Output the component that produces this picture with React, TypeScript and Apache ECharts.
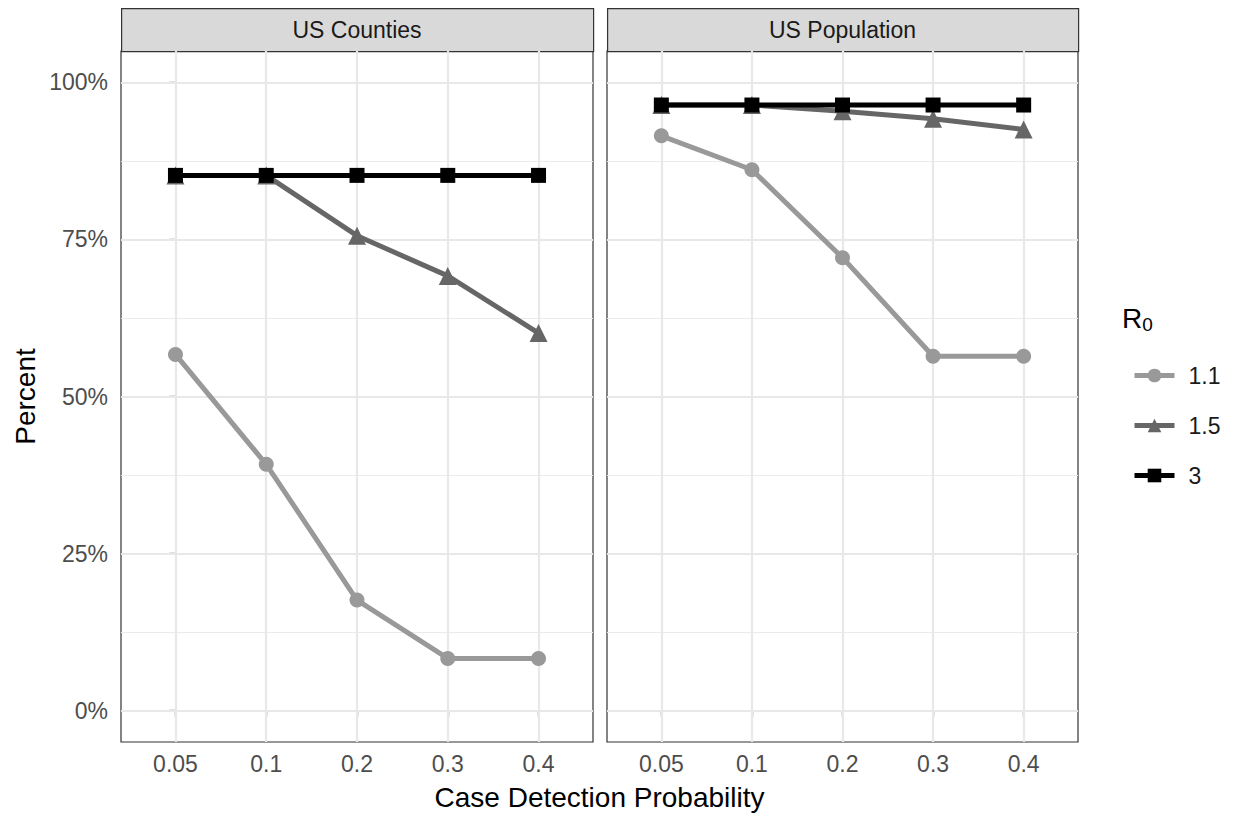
import React, { useEffect, useRef } from "react";
import * as echarts from "echarts";

const categories = ["0.05", "0.1", "0.2", "0.3", "0.4"];
const panels = ["US Counties", "US Population"];
const r0Levels = ["1.1", "1.5", "3"];

const countiesR11 = [56.7, 39.2, 17.6, 8.3, 8.3];
const countiesR15 = [85.2, 85.2, 75.6, 69.2, 60.1];
const countiesR3 = [85.2, 85.2, 85.2, 85.2, 85.2];

const populationR11 = [91.5, 86.1, 72.1, 56.4, 56.4];
const populationR15 = [96.4, 96.4, 95.4, 94.2, 92.5];
const populationR3 = [96.4, 96.4, 96.4, 96.4, 96.4];

const yMajor = [0, 25, 50, 75, 100];
const yMinor = [12.5, 37.5, 62.5, 87.5];

const colors = ["#999999", "#666666", "#000000"];
const symbols = ["circle", "triangle", "rect"];
const symbolSizes = [15, 18, 15];

const FONT = "Liberation Sans, Arial, Helvetica, sans-serif";

const gridLeft = [121, 607];
const gridWidth = [472, 471];
const gridTop = 51;
const gridHeight = 691;

export default function App() {
  const ref = useRef<HTMLDivElement>(null);

  useEffect(() => {
    if (!ref.current) return;
    const chart = echarts.init(ref.current, undefined, { renderer: "svg" });

    const panelData = [
      [countiesR11, countiesR15, countiesR3],
      [populationR11, populationR15, populationR3],
    ];

    const grids = gridLeft.map((l, i) => ({
      left: l,
      top: gridTop,
      width: gridWidth[i],
      height: gridHeight,
      show: true,
      backgroundColor: "#ffffff",
      borderColor: "#333333",
      borderWidth: 1.2,
    }));

    const xAxes = [0, 1].map((i) => ({
      type: "value",
      gridIndex: i,
      min: -0.6,
      max: 4.6,
      axisLine: { show: false },
      splitLine: { show: false },
      axisTick: {
        show: true,
        customValues: categories.map((_, k) => k),
        length: 6,
        lineStyle: { color: "#333333", width: 1.3 },
      },
      axisLabel: {
        show: true,
        customValues: categories.map((_, k) => k),
        formatter: (v: number) => categories[Math.round(v)] ?? "",
        color: "#4d4d4d",
        fontSize: 23,
        fontFamily: FONT,
        margin: 10,
      },
    }));

    const yAxes = [0, 1].map((i) => ({
      type: "value",
      gridIndex: i,
      min: -5,
      max: 105,
      axisLine: { show: false },
      splitLine: { show: false },
      name: i === 0 ? "Percent" : "",
      nameLocation: "middle",
      nameRotate: 90,
      nameGap: 82,
      nameTextStyle: { fontSize: 28, color: "#000000", fontFamily: FONT },
      axisTick: {
        show: i === 0,
        customValues: yMajor,
        length: 6,
        lineStyle: { color: "#333333", width: 1.3 },
      },
      axisLabel: {
        show: i === 0,
        customValues: yMajor,
        formatter: (v: number) => `${v}%`,
        color: "#4d4d4d",
        fontSize: 23,
        fontFamily: FONT,
        margin: 13,
      },
    }));

    const gridSeries = [0, 1].map((i) => ({
      type: "line",
      name: "grid" + i,
      xAxisIndex: i,
      yAxisIndex: i,
      data: [],
      silent: true,
      z: 1,
      markLine: {
        silent: true,
        z: 1,
        animation: false,
        symbol: ["none", "none"],
        label: { show: false },
        emphasis: { disabled: true },
        data: [
          ...yMinor.map((v) => ({
            yAxis: v,
            lineStyle: { color: "#ebebeb", width: 1, type: "solid" },
          })),
          ...yMajor.map((v) => ({
            yAxis: v,
            lineStyle: { color: "#e8e8e8", width: 2.2, type: "solid" },
          })),
          ...categories.map((_, k) => ({
            xAxis: k,
            lineStyle: { color: "#e8e8e8", width: 2.2, type: "solid" },
          })),
        ],
      },
    }));

    const dataSeries: any[] = [];
    [0, 1].forEach((p) => {
      r0Levels.forEach((lvl, j) => {
        dataSeries.push({
          type: "line",
          name: lvl,
          xAxisIndex: p,
          yAxisIndex: p,
          z: 2 + j,
          data: categories.map((_, k) => [k, panelData[p][j][k]]),
          symbol: symbols[j],
          symbolSize: symbolSizes[j],
          showSymbol: true,
          lineStyle: { color: colors[j], width: 5 },
          itemStyle: { color: colors[j] },
          emphasis: { disabled: true },
        });
      });
    });

    const graphics: any[] = [];
    panels.forEach((name, i) => {
      graphics.push({
        type: "rect",
        left: gridLeft[i],
        top: 8,
        shape: { width: gridWidth[i], height: gridTop - 8 },
        style: { fill: "#d9d9d9", stroke: "#333333", lineWidth: 1.2 },
      });
      graphics.push({
        type: "text",
        x: gridLeft[i] + gridWidth[i] / 2,
        y: 8 + (gridTop - 8) / 2,
        style: {
          text: name,
          fill: "#1a1a1a",
          fontSize: 23,
          fontFamily: FONT,
          align: "center",
          verticalAlign: "middle",
        },
      });
    });
    graphics.push({
      type: "text",
      x: (gridLeft[0] + gridLeft[1] + gridWidth[1]) / 2,
      y: 797,
      style: {
        text: "Case Detection Probability",
        fill: "#000000",
        fontSize: 28,
        fontFamily: FONT,
        align: "center",
        verticalAlign: "middle",
      },
    });
    graphics.push({
      type: "text",
      x: 1122,
      y: 318,
      style: {
        text: "{r|R}{s|0}",
        verticalAlign: "middle",
        rich: {
          r: { fontSize: 28, fill: "#000000", fontFamily: FONT },
          s: { fontSize: 19, fill: "#000000", fontFamily: FONT, padding: [12, 0, 0, 0] },
        },
      },
    });

    chart.setOption({
      animation: false,
      backgroundColor: "#ffffff",
      grid: grids,
      xAxis: xAxes,
      yAxis: yAxes,
      legend: {
        data: r0Levels,
        orient: "vertical",
        left: 1127,
        top: 359,
        itemWidth: 40,
        itemHeight: 17,
        itemGap: 27,
        selectedMode: false,
        lineStyle: { width: 5 },
        textStyle: { fontSize: 23, color: "#1a1a1a", fontFamily: FONT, lineHeight: 23, padding: [0, 0, 0, 9] },
      },
      series: [...gridSeries, ...dataSeries],
      graphic: graphics,
    });

    return () => chart.dispose();
  }, []);

  return (
    <div
      ref={ref}
      style={{ position: "fixed", left: 0, top: 0, width: 1233, height: 814 }}
    />
  );
}
